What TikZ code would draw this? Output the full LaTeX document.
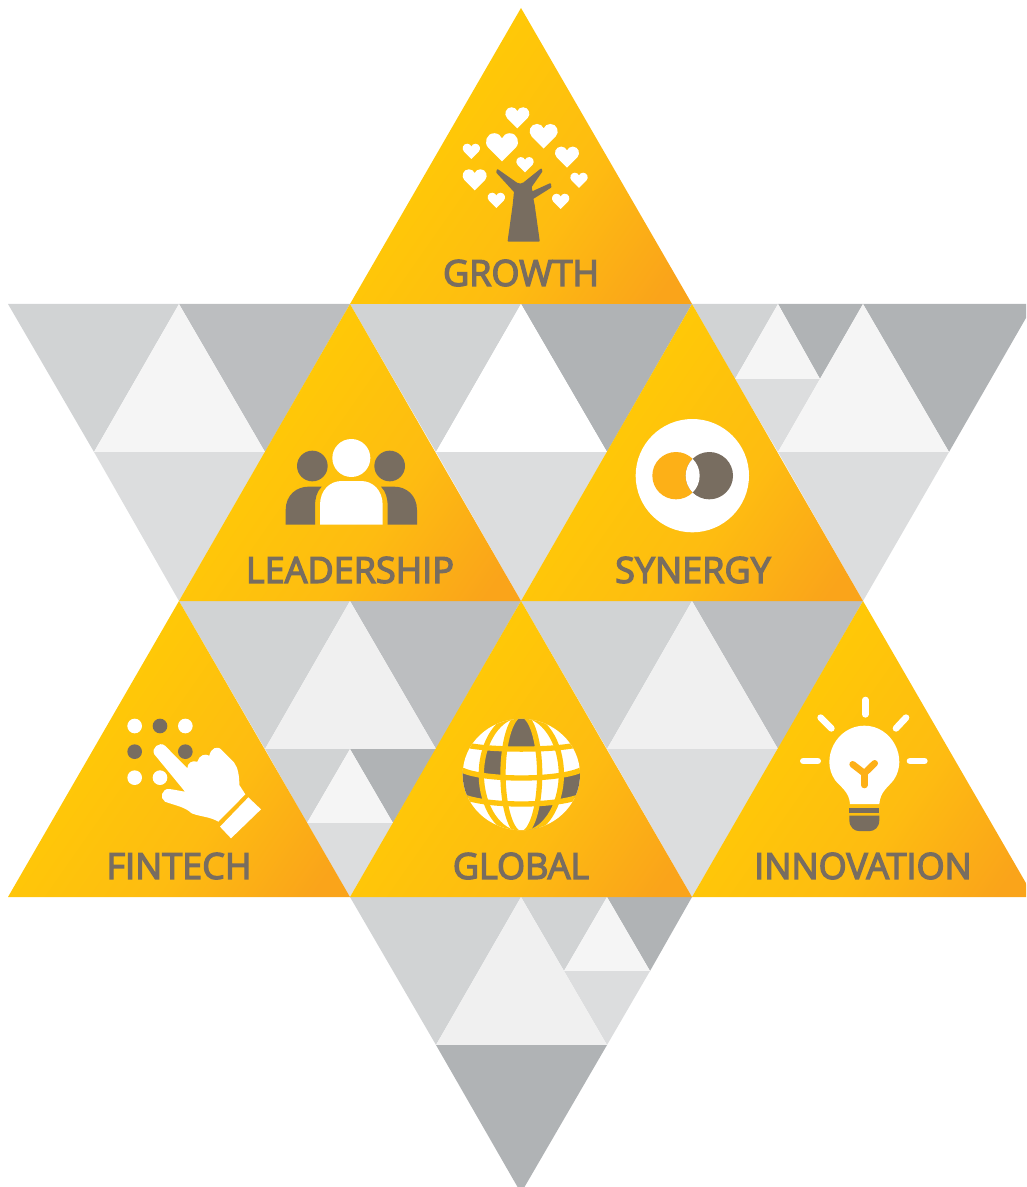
\documentclass[tikz,border=0pt]{standalone}
\usepackage{fontspec}
\setmainfont{Open Sans}
\definecolor{goldA}{HTML}{FFCB05}
\definecolor{goldB}{HTML}{FEBC11}
\definecolor{goldC}{HTML}{FAA41A}
\definecolor{greyA}{HTML}{D1D3D4}
\definecolor{greyB}{HTML}{BCBEC0}
\definecolor{greyC}{HTML}{B0B3B5}
\definecolor{greyD}{HTML}{DCDDDE}
\definecolor{paleA}{HTML}{F5F5F5}
\definecolor{paleB}{HTML}{F0F0F0}
\definecolor{ink}{HTML}{786D60}
\definecolor{amber}{HTML}{FDB017}
\definecolor{gridgold}{HTML}{FFC40C}
\pgfdeclarehorizontalshading{goldtri}{100bp}{color(0bp)=(goldA); color(32bp)=(goldA); color(60bp)=(goldB); color(80bp)=(goldC); color(100bp)=(goldC)}
\tikzset{
  goldface/.style={shading=goldtri,shading angle=-35},
  labeltext/.style={text=ink,inner sep=0pt,anchor=center,font=\fontsize{27}{27}\selectfont\addfontfeature{FakeBold=3.6}},
  zoomed/.style={scale=1/3},
  raystroke/.style={white,line cap=round,line width=5pt},
  gridline/.style={gridgold,line width=4pt},
}
\newcommand{\heartat}[3]{%
  \fill[white,shift={(#1,#2)},scale=#3]
    (0,.46) -- (-.43,.03) .. controls (-.58,-.13) and (-.48,-.42) .. (-.24,-.42)
    .. controls (-.12,-.42) and (-.04,-.35) .. (0,-.26)
    .. controls (.04,-.35) and (.12,-.42) .. (.24,-.42)
    .. controls (.48,-.42) and (.58,-.13) .. (.43,.03) -- cycle;}
\begin{document}
\begin{tikzpicture}[x=0.75pt,y=-0.75pt]
\useasboundingbox (0,0) rectangle (1026,1187);
\clip (0,0) rectangle (1026,1187);
% grey field, row 1
\fill[greyA] (8,304)--(179,304)--(94,452)--cycle;
\fill[greyB] (179,304)--(350,304)--(265,452)--cycle;
\fill[paleA] (179,304)--(94,452)--(265,452)--cycle;
\fill[greyD] (94,452)--(265,452)--(179,601)--cycle;
\fill[greyA] (350,304)--(521,304)--(436,452)--cycle;
\fill[greyC] (521,304)--(692,304)--(607,452)--cycle;
\fill[white] (521,304)--(436,452)--(607,452)--cycle;
\fill[greyD] (436,452)--(607,452)--(521,601)--cycle;
\fill[greyA] (692,304)--(778,304)--(735,379)--cycle;
\fill[greyC] (778,304)--(863,304)--(820,379)--cycle;
\fill[paleA] (778,304)--(735,379)--(820,379)--cycle;
\fill[greyD] (735,379)--(820,379)--(778,452)--cycle;
\fill[greyC] (863,304)--(1034,304)--(949,452)--cycle;
\fill[paleA] (863,304)--(778,452)--(949,452)--cycle;
\fill[greyD] (778,452)--(949,452)--(863,601)--cycle;
% row 2
\fill[greyA] (179,601)--(350,601)--(265,749)--cycle;
\fill[greyB] (350,601)--(521,601)--(436,749)--cycle;
\fill[paleB] (350,601)--(265,749)--(436,749)--cycle;
\fill[greyA] (265,749)--(350,749)--(307,823)--cycle;
\fill[greyC] (350,749)--(436,749)--(393,823)--cycle;
\fill[paleA] (350,749)--(307,823)--(393,823)--cycle;
\fill[greyD] (307,823)--(393,823)--(350,897)--cycle;
\fill[greyA] (521,601)--(692,601)--(607,749)--cycle;
\fill[greyB] (692,601)--(863,601)--(778,749)--cycle;
\fill[paleB] (692,601)--(607,749)--(778,749)--cycle;
\fill[greyD] (607,749)--(778,749)--(692,897)--cycle;
% row 3
\fill[greyA] (350,897)--(521,897)--(436,1045)--cycle;
\fill[greyA] (521,897)--(607,897)--(564,971)--cycle;
\fill[greyC] (607,897)--(692,897)--(650,971)--cycle;
\fill[paleA] (607,897)--(564,971)--(650,971)--cycle;
\fill[greyD] (564,971)--(650,971)--(607,1045)--cycle;
\fill[paleB] (521,897)--(436,1045)--(607,1045)--cycle;
\fill[greyC] (436,1045)--(607,1045)--(521,1193)--cycle;
% gold triangles
\shade[goldface] (521,8)--(692,304)--(350,304)--cycle;
\shade[goldface] (350,304)--(521,601)--(179,601)--cycle;
\shade[goldface] (692,304)--(863,601)--(521,601)--cycle;
\shade[goldface] (179,601)--(350,897)--(8,897)--cycle;
\shade[goldface] (521,601)--(692,897)--(350,897)--cycle;
\shade[goldface] (863,601)--(1034,897)--(692,897)--cycle;
% labels
\node[labeltext] (growth) at (521,273) {GROWTH};
\node[labeltext] (leadership) at (350,570) {LEADERSHIP};
\node[labeltext] (synergy) at (693,570) {SYNERGY};
\node[labeltext] (fintech) at (179,866) {FINTECH};
\node[labeltext] (global) at (521,866) {GLOBAL};
\node[labeltext] (innovation) at (863,866) {INNOVATION};
% growth icon
\begin{scope}[shift={(440,90)},zoomed]
\heartat{232}{82}{72}
\heartat{311}{137}{84}
\heartat{186}{170}{96}
\heartat{94}{183}{52}
\heartat{381}{200}{72}
\heartat{255}{223}{52}
\heartat{104}{268}{72}
\heartat{417}{270}{52}
\heartat{169}{330}{52}
\heartat{362}{333}{52}
\filldraw[ink,line width=1.5pt,line join=round] (206,452) -- (296,452) -- (281,345) -- (277,325) -- (331,291) -- (330,283) -- (275,308) -- (272,290) -- (304,244) -- (303,239) -- (252,280) .. controls (245,285) and (238,285) .. (230,281) -- (173,241) -- (172,247) -- (225,305) -- (221,345) -- cycle;
\end{scope}
% leadership icon
\begin{scope}[shift={(270,420)},zoomed]
\fill[white] (244,114) circle (57);
\fill[ink] (127,138) circle (46);
\fill[ink] (359,138) circle (46);
\fill[white] (150,314) -- (150,255) .. controls (150,210) and (180,183) .. (215,183) -- (273,183) .. controls (308,183) and (338,210) .. (338,255) -- (338,314) -- cycle;
\fill[ink] (47,314) -- (47,270) .. controls (47,225) and (80,200) .. (115,200) -- (155,200) .. controls (140,215) and (135,235) .. (135,260) -- (135,314) -- cycle;
\fill[ink] (441,314) -- (441,270) .. controls (441,225) and (408,200) .. (373,200) -- (333,200) .. controls (348,215) and (353,235) .. (353,260) -- (353,314) -- cycle;
\end{scope}
% synergy icon
\begin{scope}[shift={(620,400)},zoomed]
\fill[white] (217,227) circle (170);
\fill[amber] (168,227) circle (71);
\fill[ink] (268,227) circle (71);
\begin{scope}
\clip (168,227) circle (71);
\fill[white] (268,227) circle (71);
\end{scope}
\end{scope}
% fintech icon
\begin{scope}[shift={(110,705)},zoomed]
\fill[white] (74,63) circle (22);
\fill[ink] (150,63) circle (22);
\fill[white] (226,63) circle (22);
\fill[ink] (74,140) circle (22);
\fill[ink] (226,140) circle (22);
\fill[white] (74,218) circle (22);
\fill[white] (150,218) circle (22);
\fill[white] (133,148) .. controls (122,130) and (148,108) .. (165,122) -- (232,190) .. controls (232,175) and (245,165) .. (262,170) .. controls (268,150) and (285,145) .. (298,152) .. controls (302,130) and (322,120) .. (335,135) -- (372,172) .. controls (385,190) and (388,215) .. (388,240) -- (406,268) -- (325,350) .. controls (300,335) and (270,335) .. (245,325) .. controls (225,305) and (190,300) .. (165,290) .. controls (148,280) and (155,250) .. (178,252) .. controls (195,254) and (210,258) .. (225,260) -- cycle;
\fill[white] (330,365) -- (415,277) -- (453,313) -- (363,400) -- cycle;
\end{scope}
% global icon
\begin{scope}[shift={(450,705)},zoomed]
\begin{scope}
\clip (214,208.5) ellipse (176 and 167);
\fill[white] (0,0) rectangle (428,420);
\begin{scope}
\clip (214,208) ellipse (55 and 178);
\fill[ink] (150,20) rectangle (278,137);
\end{scope}
\fill[ink] (106,130) -- (160,137) -- (159,220) -- (94,212) -- cycle;
\fill[ink] (30,195) -- (94,212) -- (106,285) -- (30,275) -- cycle;
\fill[ink] (398,195) -- (334,212) -- (322,285) -- (398,275) -- cycle;
\begin{scope}
\clip (214,208) ellipse (120 and 178);
\fill[ink] (261,298) -- (333,285) -- (333,400) -- (230,385) -- (237,370) -- (251,340) -- cycle;
\end{scope}
\draw[gridline] (214,208) ellipse (55 and 178);
\draw[gridline] (214,208) ellipse (120 and 178);
\draw[gridline] (30,115) .. controls (90,138) and (338,138) .. (398,115);
\draw[gridline] (30,192) .. controls (90,228) and (338,228) .. (398,192);
\draw[gridline] (30,270) .. controls (90,306) and (338,306) .. (398,270);
\end{scope}
\end{scope}
% innovation icon
\begin{scope}[shift={(790,685)},zoomed]
\draw[raystroke] (226,45) -- (226,88);
\draw[raystroke] (92,98) -- (124,130);
\draw[raystroke] (348,98) -- (318,130);
\draw[raystroke] (40,228) -- (83,228);
\draw[raystroke] (360,228) -- (403,228);
\fill[white] (180,357) .. controls (178,320) and (150,305) .. (135,285) .. controls (90,220) and (140,122) .. (223,122) .. controls (306,122) and (356,220) .. (311,285) .. controls (296,305) and (270,320) .. (268,357) -- cycle;
\draw[amber,line width=5pt,line cap=round,line join=round] (188,238) -- (223,265) -- (254,235);
\draw[amber,line width=5pt,line cap=round] (223,265) -- (223,300);
\fill[ink] (177,368) rectangle (267,384);
\fill[ink] (178,392) -- (268,392) -- (268,405) .. controls (268,428) and (252,438) .. (240,438) -- (206,438) .. controls (194,438) and (178,428) .. (178,405) -- cycle;
\end{scope}
\end{tikzpicture}
\end{document}
